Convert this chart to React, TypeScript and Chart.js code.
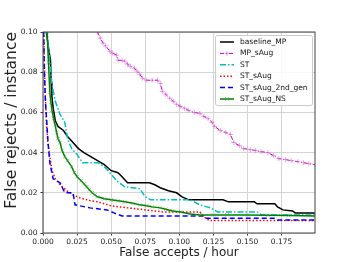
import React, { useEffect, useRef } from "react";
import { Chart, registerables } from "chart.js";

Chart.register(...registerables);

const seriesNames = ["baseline_MP", "MP_sAug", "ST", "ST_sAug", "ST_sAug_2nd_gen", "ST_sAug_NS"];

const baselineX = [0.0025, 0.004, 0.0055, 0.006, 0.0065, 0.0075, 0.009, 0.011, 0.015, 0.018, 0.022, 0.026, 0.030, 0.035, 0.040, 0.045, 0.050, 0.055, 0.058, 0.062, 0.078, 0.082, 0.086, 0.092, 0.098, 0.102, 0.107, 0.132, 0.136, 0.155, 0.157, 0.170, 0.172, 0.176, 0.183, 0.185, 0.1995];
const baselineY = [0.100, 0.092, 0.086, 0.075, 0.068, 0.062, 0.056, 0.053, 0.051, 0.048, 0.045, 0.042, 0.040, 0.038, 0.036, 0.034, 0.031, 0.030, 0.028, 0.025, 0.025, 0.024, 0.0225, 0.021, 0.020, 0.018, 0.0165, 0.0165, 0.0155, 0.0155, 0.0145, 0.0145, 0.013, 0.0115, 0.011, 0.010, 0.010];

const mpX = [0.040, 0.042, 0.044, 0.046, 0.049, 0.051, 0.054, 0.055, 0.058, 0.060, 0.062, 0.064, 0.067, 0.069, 0.071, 0.073, 0.076, 0.080, 0.084, 0.086, 0.0875, 0.090, 0.093, 0.0956, 0.098, 0.1007, 0.104, 0.1066, 0.111, 0.115, 0.118, 0.121, 0.124, 0.126, 0.130, 0.134, 0.1375, 0.140, 0.144, 0.147, 0.152, 0.156, 0.160, 0.165, 0.169, 0.173, 0.178, 0.182, 0.187, 0.191, 0.195, 0.1995];
const mpY = [0.100, 0.097, 0.0945, 0.093, 0.0905, 0.0895, 0.0885, 0.086, 0.0858, 0.0855, 0.084, 0.083, 0.082, 0.0805, 0.079, 0.077, 0.076, 0.076, 0.076, 0.0745, 0.0705, 0.069, 0.067, 0.0655, 0.064, 0.063, 0.062, 0.061, 0.060, 0.0595, 0.058, 0.057, 0.055, 0.053, 0.051, 0.050, 0.049, 0.045, 0.0435, 0.042, 0.0415, 0.041, 0.0405, 0.040, 0.0385, 0.037, 0.0365, 0.036, 0.0355, 0.035, 0.0345, 0.034];

const stX = [0.003, 0.005, 0.0066, 0.0088, 0.0125, 0.016, 0.018, 0.021, 0.025, 0.029, 0.040, 0.045, 0.049, 0.054, 0.060, 0.071, 0.075, 0.079, 0.108, 0.115, 0.123, 0.128, 0.157, 0.160, 0.1995];
const stY = [0.100, 0.085, 0.074, 0.066, 0.059, 0.055, 0.047, 0.042, 0.039, 0.035, 0.035, 0.033, 0.030, 0.026, 0.023, 0.022, 0.018, 0.0165, 0.0165, 0.014, 0.0125, 0.0105, 0.0105, 0.009, 0.009];

const stSAugX = [0.0005, 0.001, 0.0015, 0.0025, 0.0035, 0.005, 0.0066, 0.009, 0.0125, 0.0176, 0.022, 0.027, 0.035, 0.040, 0.050, 0.062, 0.075, 0.088, 0.115, 0.118, 0.122, 0.1995];
const stSAugY = [0.100, 0.085, 0.072, 0.055, 0.045, 0.038, 0.031, 0.027, 0.024, 0.021, 0.019, 0.0175, 0.016, 0.0155, 0.0135, 0.0125, 0.0115, 0.0105, 0.0105, 0.008, 0.0062, 0.0062];

const st2X = [0.0005, 0.001, 0.0018, 0.0027, 0.0037, 0.005, 0.0074, 0.0125, 0.016, 0.022, 0.0235, 0.0345, 0.047, 0.052, 0.058, 0.118, 0.120, 0.170, 0.172, 0.1995];
const st2Y = [0.100, 0.080, 0.065, 0.056, 0.045, 0.035, 0.027, 0.025, 0.020, 0.020, 0.014, 0.0125, 0.0115, 0.010, 0.0085, 0.0085, 0.0073, 0.0073, 0.0065, 0.0065];

const nsX = [0.003, 0.004, 0.005, 0.0058, 0.0066, 0.0077, 0.0088, 0.010, 0.011, 0.0125, 0.014, 0.016, 0.018, 0.021, 0.023, 0.025, 0.028, 0.030, 0.032, 0.034, 0.036, 0.038, 0.040, 0.045, 0.050, 0.055, 0.060, 0.066, 0.071, 0.076, 0.080, 0.086, 0.090, 0.095, 0.101, 0.108, 0.115, 0.125, 0.135, 0.150, 0.165, 0.180, 0.1995];
const nsY = [0.100, 0.085, 0.070, 0.065, 0.061, 0.057, 0.054, 0.050, 0.047, 0.045, 0.041, 0.038, 0.036, 0.033, 0.030, 0.028, 0.026, 0.0245, 0.023, 0.0215, 0.020, 0.019, 0.018, 0.017, 0.0165, 0.016, 0.0155, 0.0148, 0.014, 0.0135, 0.013, 0.0125, 0.0118, 0.011, 0.0105, 0.0095, 0.009, 0.009, 0.009, 0.009, 0.0088, 0.0087, 0.0085];

const xTickStep = 0.025;
const yTickStep = 0.02;
const xMax = 0.1995;
const yMax = 0.1;

const FONT = "'DejaVu Sans', sans-serif";

const toPts = (xs: number[], ys: number[]) => xs.map((x, i) => ({ x, y: ys[i] }));

type Style = {
  color: string;
  markerColor: string;
  dash: number[];
  width: number;
  marker: string | false;
  markerRadius: number;
};

const styles: Style[] = [
  { color: "#000000", markerColor: "#000000", dash: [], width: 1.5, marker: false, markerRadius: 0 },
  { color: "#bf00bf", markerColor: "rgba(215,90,215,0.55)", dash: [4, 2, 1, 2], width: 1, marker: "cross", markerRadius: 2.5 },
  { color: "#00bfbf", markerColor: "#00bfbf", dash: [6, 2, 1.5, 2], width: 1.5, marker: false, markerRadius: 0 },
  { color: "#ff0000", markerColor: "#ff0000", dash: [1.5, 2], width: 1.5, marker: false, markerRadius: 0 },
  { color: "#0000ff", markerColor: "#0000ff", dash: [5, 3], width: 1.5, marker: false, markerRadius: 0 },
  { color: "#008000", markerColor: "rgba(60,160,60,0.5)", dash: [], width: 1.5, marker: "crossRot", markerRadius: 2.5 },
];

const legendPlugin = {
  id: "customLegend",
  afterDraw(chart: any) {
    const ctx = chart.ctx;
    const left = 215, top = 35, w = 97, h = 70;
    ctx.save();
    ctx.fillStyle = "rgba(255,255,255,0.85)";
    ctx.strokeStyle = "#cccccc";
    ctx.lineWidth = 1;
    ctx.beginPath();
    if (ctx.roundRect) ctx.roundRect(left + 0.5, top + 0.5, w, h, 2);
    else ctx.rect(left + 0.5, top + 0.5, w, h);
    ctx.fill();
    ctx.stroke();
    ctx.font = `7.5px ${FONT}`;
    ctx.textBaseline = "middle";
    seriesNames.forEach((name, i) => {
      const s = styles[i];
      const y = 42 + i * 11.4;
      ctx.strokeStyle = s.color;
      ctx.lineWidth = s.width;
      ctx.setLineDash(s.dash);
      ctx.beginPath();
      ctx.moveTo(220, y);
      ctx.lineTo(234, y);
      ctx.stroke();
      ctx.setLineDash([]);
      if (s.marker) {
        ctx.strokeStyle = s.markerColor;
        ctx.lineWidth = 1;
        ctx.beginPath();
        const r = s.markerRadius;
        if (s.marker === "cross") {
          ctx.moveTo(227 - r, y); ctx.lineTo(227 + r, y);
          ctx.moveTo(227, y - r); ctx.lineTo(227, y + r);
        } else {
          const d = r * 0.8;
          ctx.moveTo(227 - d, y - d); ctx.lineTo(227 + d, y + d);
          ctx.moveTo(227 - d, y + d); ctx.lineTo(227 + d, y - d);
        }
        ctx.stroke();
      }
      ctx.fillStyle = "#111111";
      ctx.fillText(name, 240, y);
    });
    ctx.restore();
  },
};

const framePlugin = {
  id: "frame",
  afterDatasetsDraw(chart: any) {
    const { ctx, chartArea } = chart;
    ctx.save();
    ctx.strokeStyle = "#444444";
    ctx.lineWidth = 1;
    ctx.strokeRect(chartArea.left, chartArea.top, chartArea.right - chartArea.left, chartArea.bottom - chartArea.top);
    ctx.restore();
  },
};

export default function App() {
  const canvasRef = useRef<HTMLCanvasElement | null>(null);

  useEffect(() => {
    document.body.style.margin = "0";
    const dataSets = [
      toPts(baselineX, baselineY),
      toPts(mpX, mpY),
      toPts(stX, stY),
      toPts(stSAugX, stSAugY),
      toPts(st2X, st2Y),
      toPts(nsX, nsY),
    ];
    const chart = new Chart(canvasRef.current as HTMLCanvasElement, {
      type: "line",
      data: {
        datasets: dataSets.map((d, i) => ({
          label: seriesNames[i],
          data: d,
          borderColor: styles[i].color,
          backgroundColor: styles[i].markerColor,
          borderWidth: styles[i].width,
          borderDash: styles[i].dash,
          pointStyle: (styles[i].marker || "circle") as any,
          pointRadius: styles[i].marker ? styles[i].markerRadius : 0,
          pointBorderColor: styles[i].markerColor,
          pointBorderWidth: 1,
          fill: false,
          tension: 0,
          order: 10 - i,
        })),
      },
      options: {
        animation: false,
        responsive: true,
        maintainAspectRatio: false,
        layout: { padding: { top: 32, right: 35, left: 0, bottom: 0 } },
        plugins: { legend: { display: false }, tooltip: { enabled: false } },
        scales: {
          x: {
            type: "linear",
            min: 0,
            max: xMax,
            afterFit: (s: any) => { s.height = 29; },
            ticks: {
              stepSize: xTickStep,
              includeBounds: false,
              autoSkip: false,
              maxRotation: 0,
              padding: 2,
              color: "#222",
              font: { family: FONT, size: 7.5 },
              callback: (v: any) => Number(v).toFixed(3),
            },
            grid: { color: "#d4d4d4", lineWidth: 1, tickLength: 2.5, tickColor: "#333", drawTicks: true },
            border: { display: false },
            title: {
              display: true,
              text: "False accepts / hour",
              color: "#222",
              font: { family: FONT, size: 12, lineHeight: 1 },
              padding: { top: 0, bottom: 3 },
            },
          },
          y: {
            type: "linear",
            min: 0,
            max: yMax,
            afterFit: (s: any) => { s.width = 43; },
            ticks: {
              stepSize: yTickStep,
              autoSkip: false,
              padding: 3,
              color: "#222",
              font: { family: FONT, size: 7.5 },
              callback: (v: any) => Number(v).toFixed(2),
            },
            grid: { color: "#d4d4d4", lineWidth: 1, tickLength: 2.5, tickColor: "#333", drawTicks: true },
            border: { display: false },
            title: {
              display: true,
              text: "False rejects / instance",
              color: "#222",
              align: "end",
              font: { family: FONT, size: 15.5, lineHeight: 1 },
              padding: { top: 4, bottom: 0 },
            },
          },
        },
      },
      plugins: [framePlugin, legendPlugin],
    });
    return () => chart.destroy();
  }, []);

  return (
    <div style={{ position: "fixed", left: 0, top: 0, width: 350, height: 262, background: "#fff" }}>
      <canvas ref={canvasRef} />
    </div>
  );
}
